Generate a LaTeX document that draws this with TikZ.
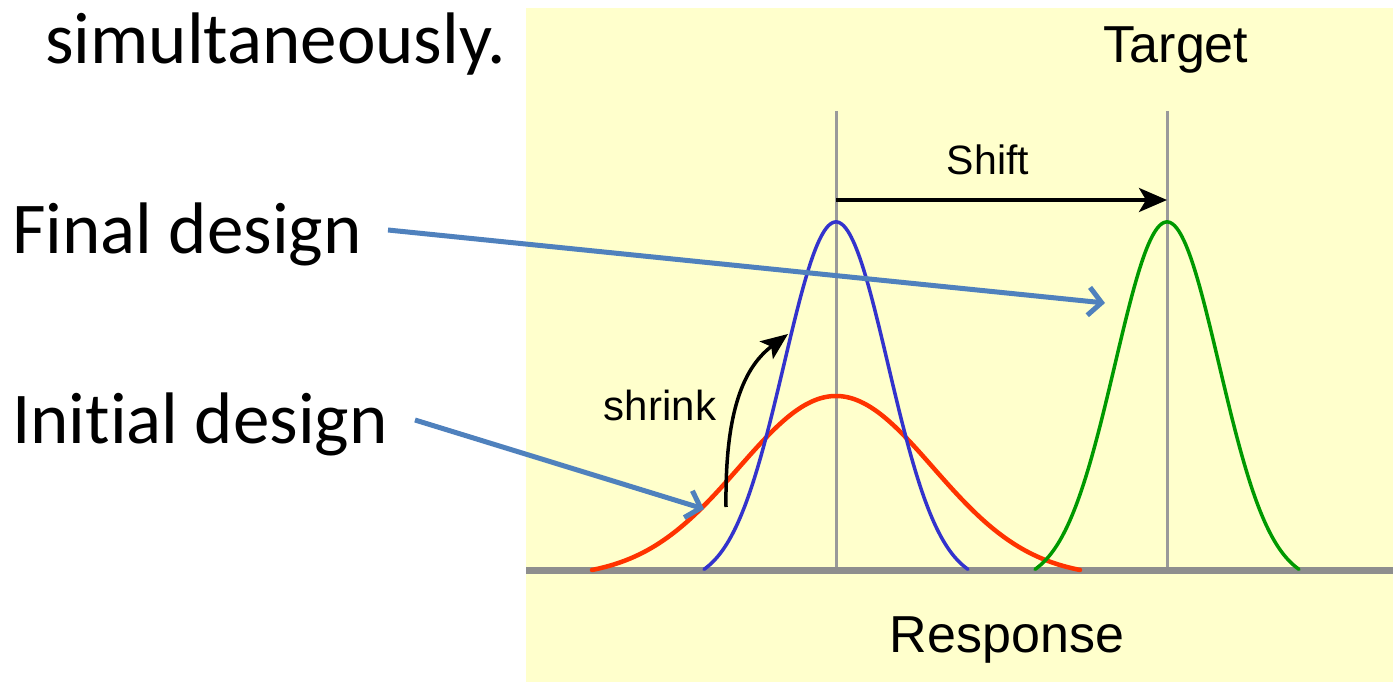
\documentclass[tikz,border=0pt]{standalone}
\usepackage{fontspec}
\setmainfont{Carlito}[Ligatures=NoCommon]
\newfontfamily\arialf{Liberation Sans}
\usetikzlibrary{arrows.meta}
\definecolor{panelyellow}{HTML}{FFFFCC}
\definecolor{officeblue}{HTML}{4F81BD}
\definecolor{curveblue}{HTML}{3333CC}
\definecolor{curvered}{HTML}{FF3300}
\definecolor{curvegreen}{HTML}{009900}
\definecolor{guidegray}{HTML}{9A9A9A}
\definecolor{axisgray}{HTML}{8E8E8E}
\tikzset{
  bigtext/.style={font=\fontsize{73}{88}\selectfont, inner sep=0pt, anchor=base west},
  paneltext/.style={font=\arialf\fontsize{#1}{#1}\selectfont, inner sep=0pt},
  guide/.style={guidegray, line width=3pt},
  pointer/.style={officeblue, line width=5pt, -{Straight Barb[length=13pt,width=28pt]}},
  curve/.style={line width=#1, line join=round, line cap=round},
}
\begin{document}
\begin{tikzpicture}[x=1pt,y=-1pt]
\useasboundingbox (0,0) rectangle (1393,682);
\fill[white] (0,0) rectangle (1393,682);
\fill[panelyellow] (526,8) rectangle (1393,682);
% guides
\draw[guide] (836,111) -- (836,570);
\draw[guide] (1167,111) -- (1167,570);
% axis
\draw[axisgray, line width=7pt] (526,570) -- (1393,570);
% curves
\draw[curvered, curve=4.5pt] plot[domain=592:1080, samples=150]
  (\x, {570-174*(exp(-((\x-836)/97)^2/2)-0.042)/(1-0.042)});
\draw[curveblue, curve=3.5pt] plot[domain=704:968, samples=150]
  (\x, {570-348*(exp(-((\x-836)/52)^2/2)-0.038)/(1-0.038)});
\draw[curvegreen, curve=3.5pt] plot[domain=1035:1299, samples=150]
  (\x, {570-348*(exp(-((\x-1167)/52)^2/2)-0.038)/(1-0.038)});
% texts in panel
\node[paneltext=52] (target) at (1176,50) {Target};
\node[paneltext=41] (shift) at (988,160) {Shift};
\node[paneltext=42] (shrink) at (660,405) {shrink};
\node[paneltext=52] (response) at (1007,640) {Response};
% shift arrow
\coordinate (shiftA) at (836,200);
\coordinate (shiftB) at (1167,200);
\draw[black, line width=3.5pt, -{Stealth[length=28pt,width=24pt,inset=7pt]}] (shiftA) -- (shiftB);
% shrink arrow
\coordinate (shrinkA) at (726,507);
\coordinate (shrinkB) at (788,334);
\draw[black, line width=3.5pt, -{Stealth[length=27pt,width=22pt,inset=6pt]}]
  (shrinkA) .. controls (725,420) and (740,370) .. (shrinkB);
% left texts
\node[bigtext] (simul) at (45,64) {simultaneously.};
\node[bigtext] (final) at (12,253) {Final design};
\node[bigtext] (initial) at (12,443) {Initial design};
\coordinate (finalTip) at (1105,303);
\coordinate (initialTip) at (704,509);
\draw[pointer] (388,230) -- (finalTip);
\draw[pointer] (415,420) -- (initialTip);
\end{tikzpicture}
\end{document}
